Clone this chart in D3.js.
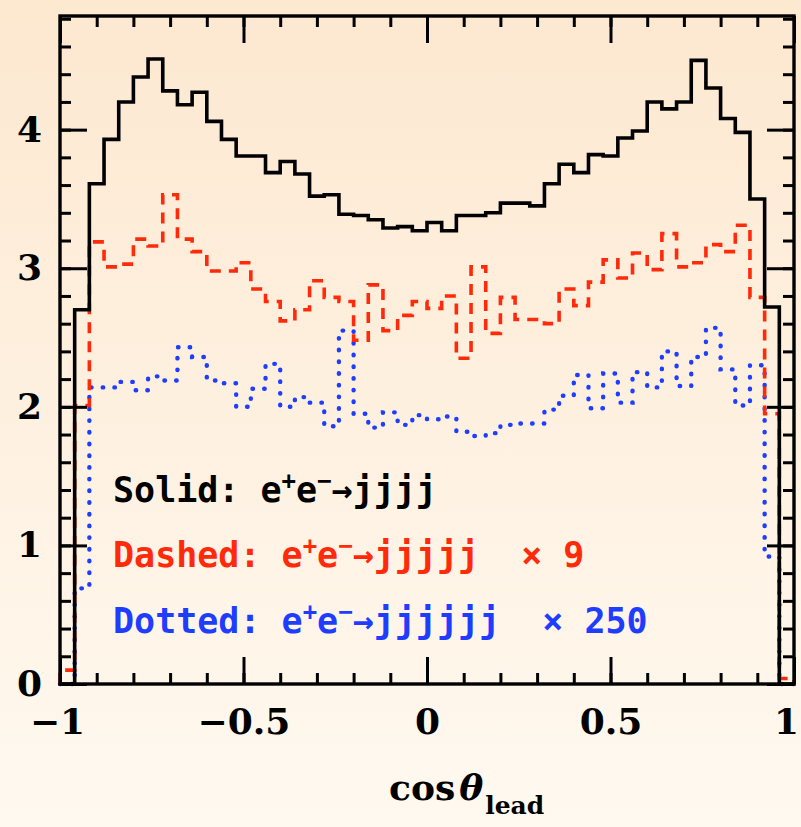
<!DOCTYPE html>
<html>
<head>
<meta charset="utf-8">
<script src="https://cdn.jsdelivr.net/npm/d3@7"></script>
<style>
  html, body { margin: 0; padding: 0; }
  svg { display: block; }
  text { font-family: "DejaVu Serif", serif; font-weight: bold; }
  .legend { font-family: "DejaVu Sans Mono", monospace; white-space: pre; }
</style>
</head>
<body>
<script>
// Histogram binning on cos(theta_lead): 50 bins of width 0.04 starting at -1
const binStart = -1;
const binWidth = 0.04;

// e+e- -> jjjj
const solid = [
  0.00, 2.70, 3.61, 3.93, 4.20, 4.38, 4.51, 4.28, 4.18, 4.27,
  4.06, 3.93, 3.81, 3.81, 3.69, 3.77, 3.68, 3.52, 3.53, 3.39,
  3.38, 3.35, 3.29, 3.30, 3.27, 3.33, 3.27, 3.38, 3.38, 3.40,
  3.47, 3.47, 3.45, 3.61, 3.75, 3.69, 3.82, 3.81, 3.94, 3.99,
  4.20, 4.15, 4.20, 4.50, 4.30, 4.08, 3.98, 3.50, 2.72, 0.00
];

// e+e- -> jjjjj, scaled by 9
const dashed = [
  0.10, 2.01, 3.19, 3.01, 3.03, 3.21, 3.16, 3.53, 3.21, 3.12,
  2.98, 2.98, 3.04, 2.85, 2.76, 2.62, 2.70, 2.91, 2.79, 2.76,
  2.48, 2.88, 2.55, 2.66, 2.76, 2.71, 2.80, 2.35, 3.01, 2.53,
  2.79, 2.63, 2.63, 2.60, 2.85, 2.73, 2.90, 3.06, 2.93, 3.11,
  2.99, 3.25, 3.01, 3.04, 3.17, 3.12, 3.31, 2.79, 1.95, 0.04
];

// e+e- -> jjjjjj, scaled by 250
const dotted = [
  0.00, 0.69, 2.14, 2.14, 2.18, 2.12, 2.22, 2.19, 2.43, 2.36,
  2.19, 2.17, 2.00, 2.13, 2.31, 2.00, 2.07, 2.03, 1.86, 2.55,
  1.95, 1.85, 1.96, 1.87, 1.94, 1.91, 1.93, 1.82, 1.79, 1.81,
  1.87, 1.88, 1.88, 1.98, 2.08, 2.23, 1.99, 2.24, 2.03, 2.25,
  2.14, 2.40, 2.15, 2.36, 2.57, 2.27, 2.01, 2.30, 0.92, 0.00
];

const xMajorTicks = [-1, -0.5, 0, 0.5, 1];
const yMajorTicks = [0, 1, 2, 3, 4];

const legendEntries = [
  { style: "Solid:",  final: "jjjj",   factor: "",         color: "#000000" },
  { style: "Dashed:", final: "jjjjj",  factor: "  × 9",    color: "#ff2a0a" },
  { style: "Dotted:", final: "jjjjjj", factor: "  × 250",  color: "#1f3dff" }
];

const W = 801, H = 827;
const x = d3.scaleLinear().domain([-1, 1]).range([60, 794]);
const y = d3.scaleLinear().domain([0, 4.82]).range([684, 16]);

const svg = d3.select("body").append("svg")
  .attr("width", W).attr("height", H)
  .attr("viewBox", `0 0 ${W} ${H}`);

// warm page background
const grad = svg.append("defs").append("linearGradient")
  .attr("id", "bg").attr("x1", 0).attr("y1", 0).attr("x2", 0).attr("y2", 1);
grad.append("stop").attr("offset", "0%").attr("stop-color", "#fde8d0");
grad.append("stop").attr("offset", "100%").attr("stop-color", "#fff9f0");
svg.append("rect").attr("width", W).attr("height", H).attr("fill", "url(#bg)");

// step path for one histogram: rises from zero at -1, falls back to zero at +1
function stepPoints(vals) {
  const pts = [[binStart, 0]];
  vals.forEach((v, i) => pts.push([binStart + i * binWidth, v]));
  pts.push([binStart + vals.length * binWidth, vals[vals.length - 1]]);
  pts.push([binStart + vals.length * binWidth, 0]);
  return pts;
}
const stepLine = d3.line()
  .x(d => x(d[0])).y(d => y(d[1]))
  .curve(d3.curveStepAfter);

const series = [
  { vals: dotted, color: "#1f3dff", width: 4.4, dash: "0.5 11.2", cap: "round" },
  { vals: dashed, color: "#ff2a0a", width: 3.6, dash: "11 8", cap: "butt" },
  { vals: solid,  color: "#000000", width: 3.6, dash: null, cap: "butt" }
];
series.forEach(s => {
  svg.append("path")
    .attr("d", stepLine(stepPoints(s.vals)))
    .attr("fill", "none")
    .attr("stroke", s.color)
    .attr("stroke-width", s.width)
    .attr("stroke-dasharray", s.dash)
    .attr("stroke-linecap", s.cap)
    .attr("stroke-linejoin", "miter");
});

// inward ticks on all four sides
function tickGroup(axis, tx, ty) {
  const g = svg.append("g").attr("transform", `translate(${tx},${ty})`).call(axis);
  g.select(".domain").remove();
  g.selectAll(".tick line").attr("stroke", "#000").attr("stroke-width", 3);
  return g;
}
const xMinor = x.ticks(20), yMinor = y.ticks(24);
tickGroup(d3.axisBottom(x).tickValues(xMinor).tickSize(-11).tickFormat(""), 0, 684);
tickGroup(d3.axisTop(x).tickValues(xMinor).tickSize(-11).tickFormat(""), 0, 16);
tickGroup(d3.axisLeft(y).tickValues(yMinor).tickSize(-11).tickFormat(""), 60, 0);
tickGroup(d3.axisRight(y).tickValues(yMinor).tickSize(-11).tickFormat(""), 794, 0);
tickGroup(d3.axisTop(x).tickValues(xMajorTicks).tickSize(-27).tickFormat(""), 0, 16);
tickGroup(d3.axisRight(y).tickValues(yMajorTicks).tickSize(-27).tickFormat(""), 794, 0);

const fmt = d3.format("");
const gx = tickGroup(d3.axisBottom(x).tickValues(xMajorTicks).tickSize(-27).tickPadding(24).tickFormat(fmt), 0, 684);
gx.selectAll("text")
  .attr("font-family", "DejaVu Serif, serif").attr("font-weight", "bold")
  .attr("font-size", 36).attr("fill", "#000")
  .attr("dx", d => d === 1 ? -8 : (d === -1 ? -3 : 0));
const gy = tickGroup(d3.axisLeft(y).tickValues(yMajorTicks).tickSize(-27).tickPadding(18).tickFormat(fmt), 60, 0);
gy.selectAll("text")
  .attr("font-family", "DejaVu Serif, serif").attr("font-weight", "bold")
  .attr("font-size", 36).attr("fill", "#000");

// frame
svg.append("rect")
  .attr("x", x(-1)).attr("y", y(4.82))
  .attr("width", x(1) - x(-1)).attr("height", y(0) - y(4.82))
  .attr("fill", "none").attr("stroke", "#000").attr("stroke-width", 3.4);

// legend
const legendY = [502, 567, 633];
legendEntries.forEach((e, i) => {
  const t = svg.append("text")
    .attr("class", "legend")
    .attr("x", 113).attr("y", legendY[i])
    .attr("font-size", 35).attr("fill", e.color);
  t.append("tspan").text(e.style + " e");
  t.append("tspan").attr("font-size", 24).attr("dy", -13).text("+");
  t.append("tspan").attr("dy", 13).text("e");
  t.append("tspan").attr("font-size", 24).attr("dy", -13).text("−");
  t.append("tspan").attr("dy", 13).text("→" + e.final + e.factor);
});

// axis title
const title = svg.append("text").attr("x", 389).attr("y", 800).attr("font-size", 36).attr("fill", "#000");
title.append("tspan").text("cos");
title.append("tspan").attr("font-style", "italic").attr("dx", 4).text("θ");
title.append("tspan").attr("font-size", 25).attr("dy", 14).attr("dx", 2).text("lead");
</script>
</body>
</html>
